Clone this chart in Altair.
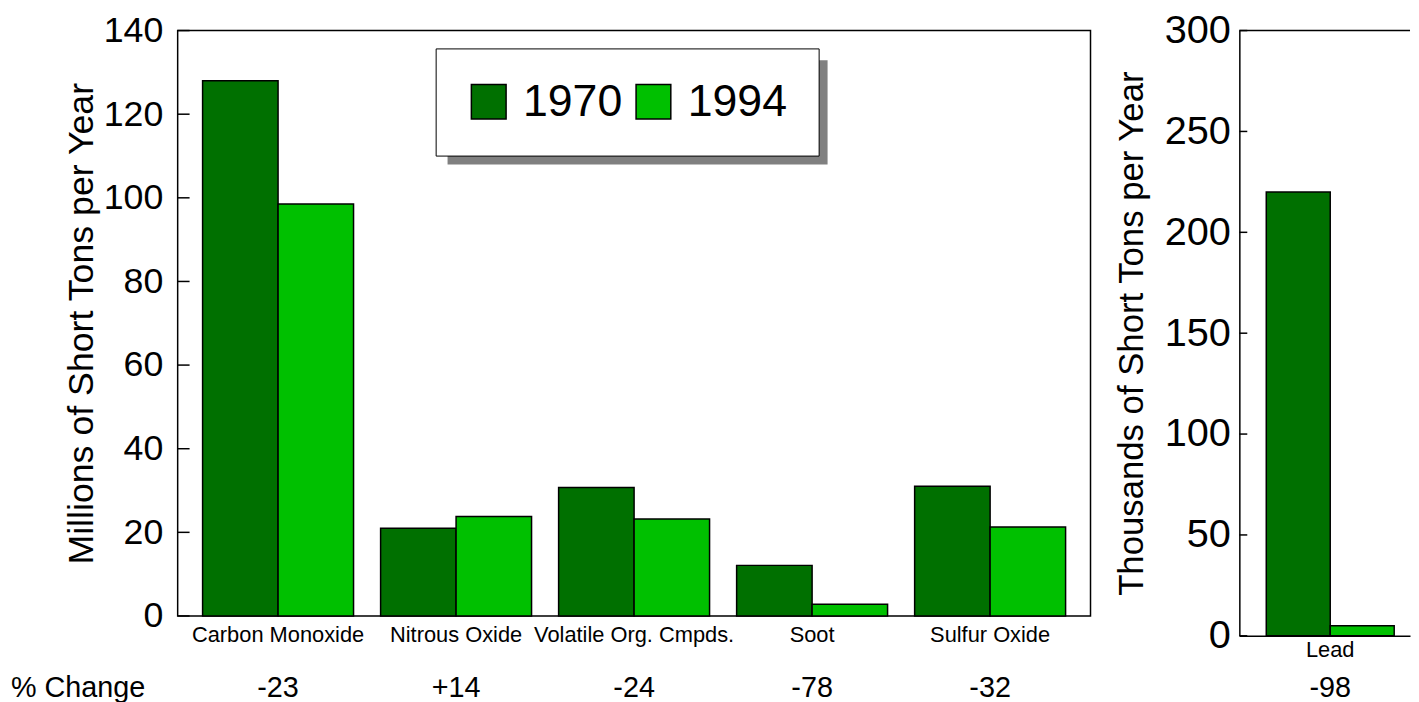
import altair as alt
import pandas as pd

# ---- data ----
pollutants = ["Carbon Monoxide", "Nitrous Oxide", "Volatile Org. Cmpds.", "Soot", "Sulfur Oxide"]
values_1970 = [128, 21, 30.7, 12.1, 31]
values_1994 = [98.5, 23.8, 23.2, 2.8, 21.3]
pct_change = ["-23", "+14", "-24", "-78", "-32"]

lead_names = ["Lead"]
lead_1970 = [220]
lead_1994 = [5]
lead_pct = ["-98"]

years = ["1970", "1994"]
colors = ["#007000", "#00c000"]
left_ticks = [0, 20, 40, 60, 80, 100, 120, 140]
right_ticks = [0, 50, 100, 150, 200, 250, 300]
pct_title = "% Change"

left_title = "Millions of Short Tons per Year"
right_title = "Thousands of Short Tons per Year"

# ---- tables ----
rows = []
for p, a, b in zip(pollutants, values_1970, values_1994):
    rows.append({"pollutant": p, "year": years[0], "value": a})
    rows.append({"pollutant": p, "year": years[1], "value": b})
df_left = pd.DataFrame(rows)
df_left_pct = pd.DataFrame({"pollutant": pollutants, "pct": pct_change})

rows = []
for p, a, b in zip(lead_names, lead_1970, lead_1994):
    rows.append({"pollutant": p, "year": years[0], "value": a})
    rows.append({"pollutant": p, "year": years[1], "value": b})
df_right = pd.DataFrame(rows)
df_right_pct = pd.DataFrame({"pollutant": lead_names, "pct": lead_pct})

df_lt = pd.DataFrame({"value": left_ticks})
df_rt = pd.DataFrame({"value": right_ticks})
df_label = pd.DataFrame({"label": [pct_title]})

LW, LH = 920, 590
RW, RH = 172, 610

SANS = "Liberation Sans, Arial, sans-serif"

# ---- left panel ----
xl = alt.X("pollutant:N", sort=pollutants,
           scale=alt.Scale(paddingInner=0.152, paddingOuter=0.14),
           axis=alt.Axis(title=None, labelAngle=0, ticks=False, domain=False,
                         labelFont=SANS, labelFontSize=22, labelPadding=9,
                         labelColor="black", labelLimit=0))
yl = alt.Y("value:Q", scale=alt.Scale(domain=[0, 140], nice=False),
           axis=alt.Axis(title=left_title, values=left_ticks, ticks=False, domain=False,
                         grid=False, labelFont=SANS, labelFontSize=36, labelColor="black",
                         labelPadding=15, titleFont=SANS, titleFontSize=36,
                         titleFontWeight="normal", titleColor="black", titlePadding=3))

shadow = alt.Chart(df_label).mark_rect(color="#808080").encode(
    x=alt.value(272), x2=alt.value(655), y=alt.value(30), y2=alt.value(135))

bars_l = alt.Chart(df_left).mark_bar(stroke="black", strokeWidth=1.5, opacity=1).encode(
    x=xl, y=yl,
    xOffset=alt.XOffset("year:N", sort=years, scale=alt.Scale(paddingInner=0, paddingOuter=0)),
    color=alt.Color("year:N", sort=years,
                    scale=alt.Scale(domain=years, range=colors),
                    legend=alt.Legend(title=None, orient="none", legendX=260, legendY=18,
                                      direction="horizontal", padding=31,
                                      fillColor="white", strokeColor="black",
                                      symbolType="square", symbolSize=1225,
                                      symbolStrokeColor="black", symbolStrokeWidth=1.5,
                                      symbolOpacity=1,
                                      labelFont=SANS, labelFontSize=45, labelColor="black",
                                      labelOffset=12, columnPadding=8)),
)

ticks_l = alt.Chart(df_lt).mark_rule(color="black", strokeWidth=1.5).encode(
    y=alt.Y("value:Q"), x=alt.value(0), x2=alt.value(12))

pct_l = alt.Chart(df_left_pct).mark_text(font=SANS, fontSize=29, baseline="middle",
                                          align="center", color="black").encode(
    x=alt.X("pollutant:N", sort=pollutants), y=alt.value(LH + 73), text="pct:N")

pct_lab = alt.Chart(df_label).mark_text(font=SANS, fontSize=29, baseline="middle",
                                         align="left", color="black").encode(
    x=alt.value(-168), y=alt.value(LH + 73), text="label:N")

left = alt.layer(shadow, bars_l, ticks_l, pct_l, pct_lab).properties(
    width=LW, height=LH, view=alt.ViewBackground(stroke="black", strokeWidth=1.5))

# ---- right panel ----
xr = alt.X("pollutant:N", sort=lead_names,
           scale=alt.Scale(paddingInner=0, paddingOuter=0.167, align=0.63),
           axis=alt.Axis(title=None, labelAngle=0, ticks=False, domain=True,
                         domainColor="black", domainWidth=1.5,
                         labelFont=SANS, labelFontSize=22, labelPadding=4,
                         labelColor="black"))
yr = alt.Y("value:Q", scale=alt.Scale(domain=[0, 300], nice=False),
           axis=alt.Axis(title=right_title, values=right_ticks, ticks=False, domain=True,
                         domainColor="black", domainWidth=1.5, grid=False,
                         labelFont=SANS, labelFontSize=40, labelColor="black",
                         labelPadding=9, titleFont=SANS, titleFontSize=35,
                         titleFontWeight="normal", titleColor="black", titlePadding=15))

bars_r = alt.Chart(df_right).mark_bar(stroke="black", strokeWidth=1.5, opacity=1).encode(
    x=xr, y=yr,
    xOffset=alt.XOffset("year:N", sort=years, scale=alt.Scale(paddingInner=0, paddingOuter=0)),
    color=alt.Color("year:N", sort=years, scale=alt.Scale(domain=years, range=colors),
                    legend=None),
)

ticks_r = alt.Chart(df_rt).mark_rule(color="black", strokeWidth=1.5).encode(
    y=alt.Y("value:Q"), x=alt.value(0), x2=alt.value(8))

top_r = alt.Chart(df_label).mark_rule(color="black", strokeWidth=1.5).encode(
    y=alt.datum(300), x=alt.value(0), x2=alt.value(RW))

pct_r = alt.Chart(df_right_pct).mark_text(font=SANS, fontSize=29, baseline="middle",
                                           align="center", color="black").encode(
    x=alt.X("pollutant:N", sort=lead_names), y=alt.value(RH + 53), text="pct:N")

right = alt.layer(bars_r, ticks_r, top_r, pct_r).properties(
    width=RW, height=RH, view=alt.ViewBackground(strokeWidth=0, stroke="transparent"))

chart = alt.hconcat(left, right, spacing=23).resolve_scale(
    color="independent", xOffset="independent").resolve_legend(color="independent").properties(
    padding={"left": 2, "top": 0, "right": 0, "bottom": 0}
).configure_view(stroke="transparent").configure_legend(strokeWidth=2).configure(background="white")

chart.save("out.html", embed_options={"renderer": "svg", "actions": False})
